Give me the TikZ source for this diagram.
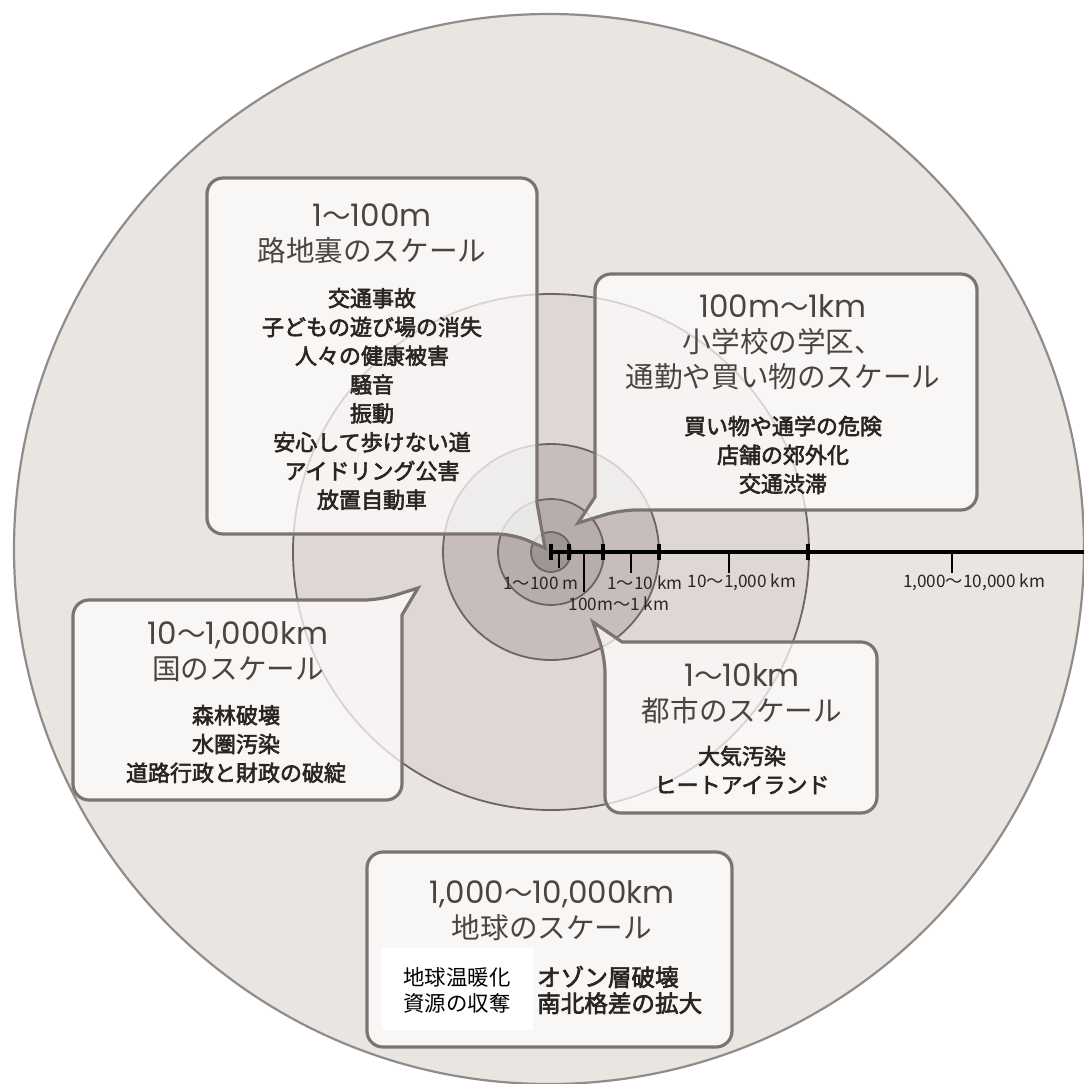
\documentclass[tikz,border=0pt]{standalone}
\usepackage{fontspec}
\setmainfont{Noto Sans CJK JP}
\newfontfamily\itemjp{Noto Sans CJK JP}[FakeBold=2.6]
\newfontfamily\geo{Poppins}
\usetikzlibrary{positioning}

\newcommand\rangehead[2]{{\geo\fontsize{15.5}{17.5}\selectfont #1}〜{\geo\fontsize{15.5}{17.5}\selectfont #2}}

\definecolor{disc0}{HTML}{E9E5E1}
\definecolor{disc1}{HTML}{DFD7D3}
\definecolor{disc2}{HTML}{C7BEBB}
\definecolor{disc3}{HTML}{B7ADAA}
\definecolor{disc4}{HTML}{9F9592}
\definecolor{rim}{HTML}{6E6563}
\definecolor{boxrim}{HTML}{7C7471}
\definecolor{ink}{HTML}{2A2422}

\begin{document}
\begin{tikzpicture}[x=0.5pt,y=-0.5pt,
  ring/.style={draw=rim,line width=0.9pt},
  bubble/.style={draw=boxrim,line width=1.6pt,fill=white,fill opacity=0.72},
  head/.style={align=center,font=\fontsize{14.3}{17.5}\selectfont,text=ink!85},
  item/.style={align=center,font=\fontsize{11}{14.4}\selectfont\itemjp,text=ink},
  scalelbl/.style={font=\fontsize{8.6}{10}\selectfont,text=ink,inner sep=1pt},
  bigtick/.style={line width=2.4pt,black},
  thintick/.style={line width=0.6pt,black}]

\useasboundingbox (0,0) rectangle (1084,1084);
\fill[white] (0,0) rectangle (1084,1084);
\clip (0,0) rectangle (1084,1084);

\coordinate (c) at (551,552);
\coordinate (earth) at (549,549);
\filldraw[ring,fill=disc0,draw=rim!75,line width=1.1pt] (earth) circle[radius=267.5pt];
\filldraw[ring,fill=disc1] (c) circle[radius=129pt];
\filldraw[ring,fill=disc2] (c) circle[radius=54pt];
\filldraw[ring,fill=disc3] (c) circle[radius=26.5pt];
\filldraw[ring,fill=disc4] (c) circle[radius=10pt];

% scale axis
\coordinate (axisend) at (1100,552);
\draw[line width=1.6pt] (c) -- (axisend);
\foreach \x in {551,569,603,659,808}
  \draw[bigtick] (\x,544) -- (\x,560);

\coordinate (a1) at (559,552);
\coordinate (b1) at (559,568);
\coordinate (a2) at (584,552);
\coordinate (b2) at (584,592);
\coordinate (a3) at (631,552);
\coordinate (b3) at (631,573);
\coordinate (a4) at (729,552);
\coordinate (b4) at (729,573);
\coordinate (a5) at (952,552);
\coordinate (b5) at (952,573);
\foreach \n in {1,...,5}
  \draw[thintick] (a\n) -- (b\n);

\node[scalelbl] (l1) at (541,583) {1〜100 m};
\node[scalelbl] (l2) at (619,604) {100m〜1 km};
\node[scalelbl] (l3) at (645,583) {1〜10 km};
\node[scalelbl] (l4) at (742,582) {10〜1,000 km};
\node[scalelbl] (l5) at (974,582) {1,000〜10,000 km};

% 1-100m
\draw[bubble] (537,503) [rounded corners=8pt] -- (537,178) -- (207,178) -- (207,534) -- (513,534) [sharp corners] -- (545,548) -- cycle;
\node[head] (h1) at (372,234) {\rangehead{1}{100m}\\路地裏のスケール};
\node[item] (i1) at (372,399) {交通事故\\子どもの遊び場の消失\\人々の健康被害\\騒音\\振動\\安心して歩けない道\\アイドリング公害\\放置自動車};

% 100m-1km
\draw[bubble] (595,497) [rounded corners=8pt] -- (595,274) -- (977,274) -- (977,510) -- (620,510) [sharp corners] -- (578,523) -- cycle;
\node[head] (h2) at (783,342) {\rangehead{100m}{1km}\\小学校の学区、\\通勤や買い物のスケール};
\node[item] (i2) at (783,455) {買い物や通学の危険\\店舗の郊外化\\交通渋滞};

% 10-1000km
\draw[bubble] (402,615) [rounded corners=8pt] -- (402,800) -- (73,800) -- (73,600) -- (380,600) [sharp corners] -- (418,588) -- cycle;
\node[head] (h3) at (238,652) {\rangehead{10}{1,000km}\\国のスケール};
\node[item] (i3) at (236,744) {森林破壊\\水圏汚染\\道路行政と財政の破綻};

% 1-10km
\draw[bubble] (622,642) [rounded corners=8pt] -- (877,642) -- (877,813) -- (605,813) -- (605,657) [sharp corners] -- (593,622) -- cycle;
\node[head] (h4) at (742,694) {\rangehead{1}{10km}\\都市のスケール};
\node[item] (i4) at (742,770) {大気汚染\\ヒートアイランド};

% 1000-10000km
\draw[bubble,rounded corners=8pt] (367,852) rectangle (732,1047);
\node[head] (h5) at (552,911) {\rangehead{1,000}{10,000km}\\地球のスケール};
\node[item,align=left,anchor=west,font=\fontsize{11.8}{13}\selectfont\itemjp] (i5) at (530,990) {オゾン層破壊\\南北格差の拡大};
\fill[white] (382,948) rectangle (533,1030);
\node[align=left,anchor=west,inner sep=0pt,font=\fontsize{10.7}{13}\selectfont,text=black] (i6) at (403,990) {地球温暖化\\資源の収奪};
\end{tikzpicture}
\end{document}
